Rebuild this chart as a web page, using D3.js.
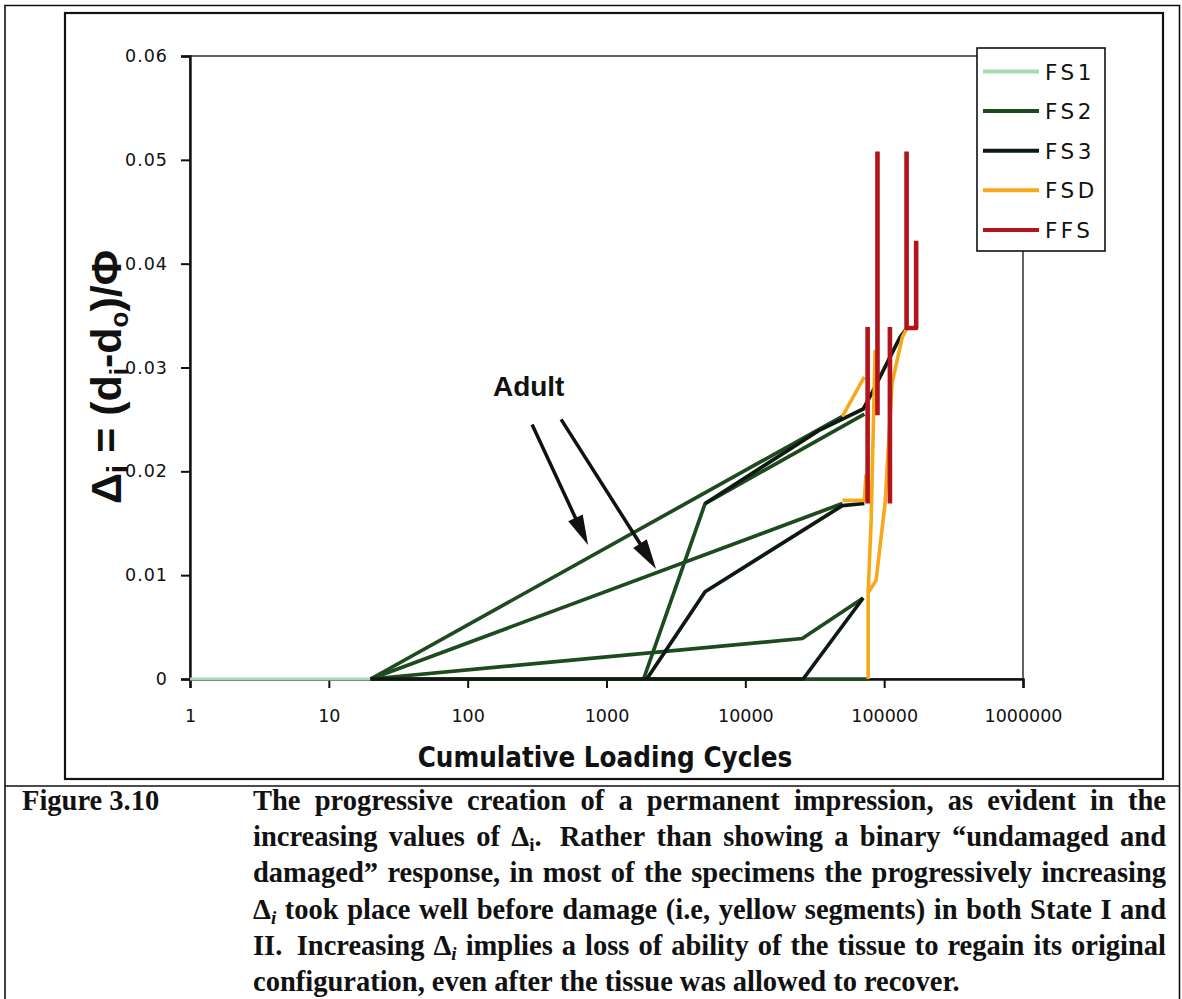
<!DOCTYPE html>
<html>
<head>
<meta charset="utf-8">
<script src="https://cdn.jsdelivr.net/npm/d3@7"></script>
<style>
  body { margin: 0; background: #fff; }
  svg { display: block; }
</style>
</head>
<body>
<svg id="fig" width="1182" height="999"></svg>
<script>
// ---- data -------------------------------------------------------------
const seriesNames  = ["FS1", "FS2", "FS3", "FSD", "FFS"];
const seriesColors = ["#a8dbb4", "#1d4a1f", "#0e1a10", "#f7a91c", "#b3141c"];
const seriesWidths = [3, 3.7, 3.7, 3.6, 4.6];

const xTickValues = [1, 10, 100, 1000, 10000, 100000, 1000000];
const xTickLabels = ["1", "10", "100", "1000", "10000", "100000", "1000000"];
const yTickValues = [0, 0.01, 0.02, 0.03, 0.04, 0.05, 0.06];
const yTickLabels = ["0", "0.01", "0.02", "0.03", "0.04", "0.05", "0.06"];

// each series holds several specimen traces: [cycles, delta]
const fs1Traces = [
  [[1, 0], [20, 0]]
];
const fs2Traces = [
  [[20, 0], [50000, 0.0253]],
  [[20, 0], [50000, 0.0169]],
  [[20, 0], [25700, 0.0039], [70600, 0.0078]],
  [[20, 0], [1850, 0], [5130, 0.0169], [72000, 0.0255]],
  [[1850, 0], [77000, 0]]
];
const fs3Traces = [
  [[1950, 0], [5130, 0.0084], [50000, 0.0167], [72000, 0.0169]],
  [[20, 0], [26100, 0], [70600, 0.0078]],
  [[5130, 0.0169], [34600, 0.0240], [70600, 0.0260], [82000, 0.0276],
   [96800, 0.0295], [130000, 0.0329], [146000, 0.0338]]
];
const fsdTraces = [
  [[50000, 0.0253], [72000, 0.0291]],
  [[50000, 0.0172], [72000, 0.0172], [74000, 0.0197]],
  [[76700, 0], [76700, 0.0083], [80600, 0.0153], [83800, 0.0250], [86100, 0.0317]],
  [[76700, 0.0083], [87500, 0.0095], [101600, 0.0170], [114000, 0.0285],
   [135000, 0.0329], [146000, 0.0338], [173000, 0.0338]]
];
const ffsTraces = [
  [[76000, 0.0169], [76000, 0.0339]],
  [[89500, 0.0254], [89500, 0.0508]],
  [[110000, 0.0169], [110000, 0.0339]],
  [[145000, 0.0508], [145000, 0.0338], [170000, 0.0338], [170000, 0.0422]]
];
const allTraces = [fs1Traces, fs2Traces, fs3Traces, fsdTraces, ffsTraces];

// "Adult" annotation, in data units
const adultLabel = { text: "Adult", at: [152, 0.0273] };
const adultArrows = [
  { from: [291, 0.0245], to: [737, 0.0129] },
  { from: [471, 0.0250], to: [2276, 0.0106] }
];

const xTitle = "Cumulative Loading Cycles";

const captionLabel = "Figure 3.10";
// {i} = upright subscript i, [i] = italic subscript i
const captionLines = [
  "The progressive creation of a permanent impression, as evident in the",
  "increasing values of Δ{i}.  Rather than showing a binary “undamaged and",
  "damaged” response, in most of the specimens the progressively increasing",
  "Δ[i] took place well before damage (i.e, yellow segments) in both State I and",
  "II.  Increasing Δ[i] implies a loss of ability of the tissue to regain its original",
  "configuration, even after the tissue was allowed to recover."
];

// ---- layout -----------------------------------------------------------
const svg = d3.select("#fig");
const plot = { left: 190, right: 1023, top: 56, bottom: 679 };

const x = d3.scaleLog().domain([1, 1e6]).range([plot.left, plot.right]);
const y = d3.scaleLinear().domain([0, 0.06]).range([plot.bottom, plot.top]);

svg.append("rect").attr("width", 1182).attr("height", 999).attr("fill", "#fff");

// page frame
const frame = svg.append("g").attr("stroke", "#111").attr("fill", "none");
frame.append("path").attr("d", "M5,999 V5.5 H1179.5 V999").attr("stroke-width", 1.6);
frame.append("line").attr("x1", 5).attr("x2", 1180).attr("y1", 786).attr("y2", 786).attr("stroke-width", 1.6);
frame.append("rect").attr("x", 65).attr("y", 13).attr("width", 1098).attr("height", 766).attr("stroke-width", 2.2);

// plot box
svg.append("rect")
  .attr("x", plot.left).attr("y", plot.top)
  .attr("width", plot.right - plot.left).attr("height", plot.bottom - plot.top)
  .attr("fill", "none").attr("stroke", "#222").attr("stroke-width", 1.4);

// axes
const xAxis = d3.axisBottom(x).tickValues(xTickValues)
  .tickFormat((d, i) => xTickLabels[i]).tickSize(9).tickPadding(22);
const yAxis = d3.axisLeft(y).tickValues(yTickValues)
  .tickFormat((d, i) => yTickLabels[i]).tickSize(9).tickPadding(13);

const gx = svg.append("g").attr("transform", `translate(0,${plot.bottom})`).call(xAxis);
const gy = svg.append("g").attr("transform", `translate(${plot.left},0)`).call(yAxis);

[gx, gy].forEach(g => {
  g.select(".domain").attr("stroke", "#111").attr("stroke-width", 2.4);
  g.selectAll(".tick line").attr("stroke", "#111").attr("stroke-width", 2);
  g.selectAll(".tick text")
    .attr("fill", "#111")
    .attr("font-family", "'DejaVu Sans', Verdana, sans-serif")
    .attr("font-size", 17.5);
});
gy.selectAll(".tick text").attr("letter-spacing", 1);

// axis titles
svg.append("text")
  .attr("x", 605).attr("y", 767)
  .attr("text-anchor", "middle")
  .attr("font-family", "'DejaVu Sans Condensed', 'DejaVu Sans', sans-serif")
  .attr("font-weight", "bold").attr("font-size", 27.5)
  .attr("fill", "#111")
  .text(xTitle);

const yTitle = svg.append("text")
  .attr("transform", "translate(121,377) rotate(-90)")
  .attr("text-anchor", "middle")
  .attr("font-family", "'Liberation Sans', Arial, sans-serif")
  .attr("font-weight", "bold").attr("font-size", 43)
  .attr("fill", "#111");
yTitle.append("tspan").text("Δ");
yTitle.append("tspan").attr("font-size", 30).attr("dy", 7).text("i");
yTitle.append("tspan").attr("dy", -7).text(" = (d");
yTitle.append("tspan").attr("font-size", 26).attr("dy", 7).text("i");
yTitle.append("tspan").attr("dy", -7).text("-d");
yTitle.append("tspan").attr("font-size", 26).attr("dy", 7).text("o");
yTitle.append("tspan").attr("dy", -7).text(")/Φ");

// traces
const line = d3.line().x(d => x(d[0])).y(d => y(d[1]));
const gLines = svg.append("g").attr("fill", "none")
  .attr("stroke-linejoin", "round").attr("stroke-linecap", "butt");
allTraces.forEach((traces, si) => {
  gLines.selectAll(null).data(traces).enter().append("path")
    .attr("d", line)
    .attr("stroke", seriesColors[si])
    .attr("stroke-width", seriesWidths[si]);
});

// annotation
svg.append("text")
  .attr("x", x(adultLabel.at[0])).attr("y", y(adultLabel.at[1]))
  .attr("font-family", "'Liberation Sans', Arial, sans-serif")
  .attr("font-weight", "bold").attr("font-size", 28)
  .attr("fill", "#111")
  .text(adultLabel.text);

const gArrows = svg.append("g");
adultArrows.forEach(a => {
  const x0 = x(a.from[0]), y0 = y(a.from[1]);
  const x1 = x(a.to[0]), y1 = y(a.to[1]);
  const L = Math.hypot(x1 - x0, y1 - y0), ux = (x1 - x0) / L, uy = (y1 - y0) / L;
  const hl = 30, hw = 8;
  const bx = x1 - ux * hl, by = y1 - uy * hl;
  gArrows.append("line")
    .attr("x1", x0).attr("y1", y0).attr("x2", bx + ux * 2).attr("y2", by + uy * 2)
    .attr("stroke", "#111").attr("stroke-width", 3.5);
  gArrows.append("path")
    .attr("d", `M${x1},${y1} L${bx - uy * hw},${by + ux * hw} L${bx + uy * hw},${by - ux * hw} Z`)
    .attr("fill", "#111");
});

// legend
const legend = svg.append("g");
legend.append("rect")
  .attr("x", 977).attr("y", 48).attr("width", 128).attr("height", 203)
  .attr("fill", "#fff").attr("stroke", "#111").attr("stroke-width", 1.6);
seriesNames.forEach((name, i) => {
  const ly = 71.5 + i * 39.6;
  legend.append("line")
    .attr("x1", 983).attr("x2", 1039).attr("y1", ly).attr("y2", ly)
    .attr("stroke", seriesColors[i]).attr("stroke-width", 4);
  legend.append("text")
    .attr("x", 1045).attr("y", ly + 8)
    .attr("font-family", "'DejaVu Sans', Verdana, sans-serif")
    .attr("font-size", 21.5).attr("letter-spacing", 3.5)
    .attr("fill", "#111")
    .text(name);
});

// caption
const capFont = "'Liberation Serif', 'Times New Roman', serif";
const capSize = 28.5, subSize = 19, subShift = 5;
const cap = svg.append("g")
  .attr("font-family", capFont).attr("font-weight", "bold")
  .attr("font-size", capSize).attr("fill", "#111");

cap.append("text").attr("x", 22).attr("y", 810).text(captionLabel);

// one word of running text, with Δ-subscripts set as smaller lowered tspans
function addWord(g, word) {
  const t = g.append("text");
  const re = /Δ(\{i\}|\[i\])/g;
  let last = 0, m, lowered = false;
  while ((m = re.exec(word)) !== null) {
    const before = word.slice(last, m.index) + "Δ";
    t.append("tspan").attr("dy", lowered ? -subShift : null).text(before);
    const sub = t.append("tspan").attr("font-size", subSize).attr("dy", subShift).text("i");
    if (m[1] === "[i]") sub.attr("font-style", "italic");
    lowered = true;
    last = m.index + m[0].length;
  }
  if (last < word.length) {
    t.append("tspan").attr("dy", lowered ? -subShift : null).text(word.slice(last));
  }
  return t;
}

const capLeft = 253, capRight = 1166, capTop = 810, capStep = 36.2;
captionLines.forEach((ln, li) => {
  // a double space widens the gap before the following word
  const parts = ln.split(/( +)/);
  const words = [], gapWeights = [];
  parts.forEach(p => {
    if (/^ +$/.test(p)) gapWeights.push(p.length > 1 ? 1.6 : 1);
    else if (p.length) words.push(p);
  });
  const g = cap.append("g");
  const nodes = words.map(w => addWord(g, w));
  const widths = nodes.map(n => n.node().getComputedTextLength());
  const total = d3.sum(widths);
  const lastLine = li === captionLines.length - 1;
  const unit = lastLine ? 7 : (capRight - capLeft - total) / d3.sum(gapWeights);
  let cx = capLeft;
  nodes.forEach((n, i) => {
    n.attr("x", cx).attr("y", capTop + li * capStep);
    cx += widths[i] + (i < gapWeights.length ? gapWeights[i] * unit : 0);
  });
});
</script>
</body>
</html>
